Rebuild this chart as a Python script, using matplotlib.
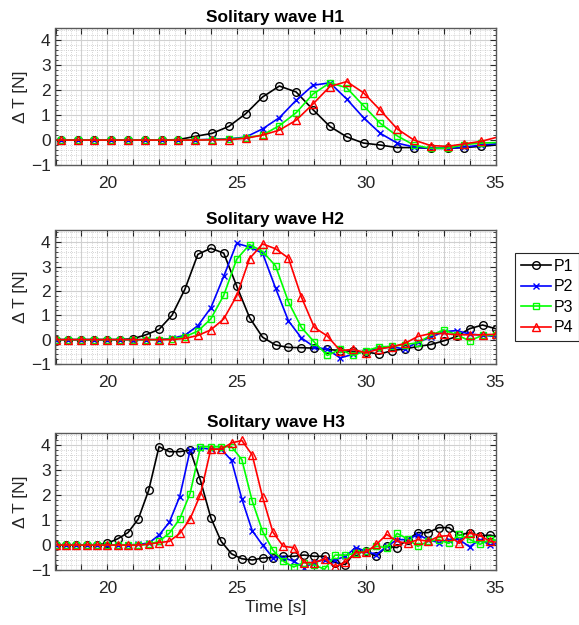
import matplotlib
matplotlib.use("Agg")
import matplotlib.pyplot as plt
import numpy as np
from matplotlib.ticker import MultipleLocator, FixedLocator

plt.rcParams["font.family"] = ["Liberation Sans", "DejaVu Sans"]

# ---- data ----
# Solitary wave H1: samples at the markers (every 0.65 s from 18.2 s) plus 18 s and 35 s
t_h1 = [18.0] + list(np.round(np.arange(18.2, 34.5, 0.65), 2)) + [35.0]
p1_h1 = [0] * 8 + [0.02, 0.15, 0.27, 0.55, 1.06, 1.73, 2.17, 1.93, 1.22, 0.55, 0.13,
                   -0.12, -0.2, -0.3, -0.3, -0.33, -0.33, -0.3, -0.25, -0.2]
p2_h1 = [0] * 9 + [0.01, 0.03, 0.05, 0.12, 0.45, 0.9, 1.6, 2.2, 2.3, 1.65, 0.9, 0.27,
                   -0.12, -0.28, -0.33, -0.33, -0.28, -0.2, -0.15]
p3_h1 = [0] * 9 + [0.01, 0.02, 0.04, 0.1, 0.2, 0.58, 1.1, 1.85, 2.3, 2.1, 1.38, 0.67,
                   0.17, -0.2, -0.33, -0.33, -0.18, -0.12, -0.1]
p4_h1 = [0] * 10 + [0.01, 0.02, 0.07, 0.2, 0.4, 0.8, 1.45, 2.15, 2.35, 1.9, 1.2, 0.45,
                    0.0, -0.22, -0.25, -0.15, -0.05, 0.1]

# Solitary wave H2: markers every 0.5 s
t_h2 = list(np.round(np.arange(18.0, 35.01, 0.5), 2))
p1_h2 = [0] * 6 + [0.04, 0.2, 0.42, 1.0, 2.07, 3.5, 3.75, 3.55, 2.2, 0.9, 0.1, -0.22,
                   -0.32, -0.33, -0.35, -0.4, -0.45, -0.48, -0.5, -0.6, -0.45, -0.38,
                   -0.28, -0.2, -0.05, 0.13, 0.45, 0.6, 0.45]
p2_h2 = [0] * 9 + [0.05, 0.18, 0.57, 1.3, 2.6, 3.95, 3.8, 3.55, 2.12, 0.77, 0.07, -0.3,
                   -0.4, -0.75, -0.6, -0.47, -0.35, -0.3, -0.38, -0.1, 0.1, 0.33, 0.37,
                   0.23, 0.18, 0.13]
p3_h2 = [0] * 9 + [0.03, 0.12, 0.35, 0.85, 1.82, 3.3, 3.9, 3.62, 3.03, 1.55, 0.5, -0.1,
                   -0.65, -0.4, -0.65, -0.45, -0.3, -0.28, -0.2, -0.13, 0.18, 0.4, 0.2,
                   -0.05, 0.18, 0.18]
p4_h2 = [0] * 10 + [0.05, 0.17, 0.4, 0.85, 1.8, 3.33, 3.93, 3.73, 3.35, 1.75, 0.5, 0.15,
                    -0.45, -0.4, -0.55, -0.38, -0.3, -0.15, 0.13, 0.25, 0.25, 0.2, 0.2,
                    0.2, 0.22]

# Solitary wave H3: markers every 0.4 s, plus 35 s
t_h3 = list(np.round(np.arange(18.0, 34.81, 0.4), 2)) + [35.0]
p1_h3 = [0] * 5 + [0.07, 0.25, 0.5, 1.05, 2.2, 3.95, 3.75, 3.75, 3.82, 2.6, 1.1, 0.15,
                   -0.35, -0.55, -0.6, -0.52, -0.5, -0.45, -0.45, -0.4, -0.45, -0.45,
                   -0.7, -0.78, -0.25, -0.25, -0.45, -0.05, -0.1, 0.22, 0.5, 0.5, 0.7,
                   0.7, 0.4, 0.5, 0.37, 0.4, 0.35]
p2_h3 = [0] * 8 + [0.03, 0.08, 0.4, 0.92, 1.95, 3.8, 3.9, 3.85, 3.85, 3.4, 1.85, 0.58,
                   0.0, -0.5, -0.5, -0.65, -0.9, -0.7, -0.58, -0.6, -0.45, -0.1, -0.25,
                   -0.38, -0.05, 0.22, 0.22, 0.42, 0.22, 0.1, 0.22, 0.22, -0.07, 0.22,
                   0.0, 0.05]
p3_h3 = [0] * 9 + [0.03, 0.15, 0.48, 1.05, 2.07, 3.95, 3.95, 3.95, 3.95, 3.43, 1.77,
                   0.55, -0.2, -0.65, -0.88, -0.7, -0.8, -0.97, -0.4, -0.4, -0.33,
                   -0.25, -0.05, -0.1, 0.47, 0.25, -0.05, 0.15, 0.22, 0.07, 0.43, 0.23,
                   0.03, 0.23, 0.2]
p4_h3 = [0] * 9 + [0.04, 0.1, 0.15, 0.47, 1.05, 2.03, 3.85, 3.85, 4.1, 4.2, 3.62, 1.93,
                   0.52, -0.05, -0.1, -0.7, -0.7, -0.55, -0.87, -0.68, -0.3, -0.28, 0.03,
                   0.43, 0.15, 0.07, 0.22, 0.15, 0.35, 0.38, 0.07, 0.48, 0.38, 0.15,
                   0.12]

panels = [
    ("Solitary wave H1", t_h1, [p1_h1, p2_h1, p3_h1, p4_h1], slice(1, -1)),
    ("Solitary wave H2", t_h2, [p1_h2, p2_h2, p3_h2, p4_h2], slice(0, None)),
    ("Solitary wave H3", t_h3, [p1_h3, p2_h3, p3_h3, p4_h3], slice(0, -1)),
]
labels = ["P1", "P2", "P3", "P4"]
colors = ["k", "#0000ff", "#00ff00", "#ff0000"]
markers = ["o", "x", "s", "^"]
msizes = [5.5, 4.5, 4.5, 6]

# axes boxes in pixels (left, top, right, bottom) of the 579x625 figure
W, H = 579, 625
rects = [(55.5, 28, 495.5, 165), (55.5, 230, 495.5, 364), (55.5, 433, 495.5, 570)]

fig = plt.figure(figsize=(W / 100, H / 100), dpi=100)
axes = []
for (title, t, series, mev), (l, tp, r, b) in zip(panels, rects):
    ax = fig.add_axes([l / W, 1 - b / H, (r - l) / W, (b - tp) / H])
    axes.append(ax)
    for vals, lab, c, m, ms in zip(series, labels, colors, markers, msizes):
        assert len(vals) == len(t), (title, lab, len(vals), len(t))
        ax.plot(t, vals, color=c, lw=1.2, marker=m, ms=ms, mfc="none",
                mec=c, mew=1.0, markevery=mev, label=lab)
    ax.set_xlim(18, 35)
    ax.set_ylim(-1, 4.5)
    ax.xaxis.set_major_locator(MultipleLocator(1))
    ax.xaxis.set_major_formatter(
        plt.FuncFormatter(lambda v, p: f"{v:.0f}" if abs(v % 5) < 1e-6 else ""))
    ax.xaxis.set_minor_locator(MultipleLocator(0.2))
    ax.yaxis.set_major_locator(FixedLocator([-1, 0, 1, 2, 3, 4]))
    ax.yaxis.set_minor_locator(MultipleLocator(0.2))
    ax.grid(which="major", color="#d0d0d0", lw=0.8, ls="-")
    ax.grid(which="minor", color="#c8c8c8", lw=0.6, ls=(0, (1, 1.5)))
    ax.set_axisbelow(True)
    ax.tick_params(which="both", direction="in", top=True, right=True,
                   labelsize=12.5, colors="#262626", labelcolor="#262626")
    ax.tick_params(which="major", length=4, width=0.8)
    ax.tick_params(which="minor", length=2.5, width=0.6)
    ax.tick_params(axis="x", which="minor", length=0)
    ax.tick_params(axis="x", which="major", pad=8)
    for s in ax.spines.values():
        s.set_color("#5a5a5a")
        s.set_linewidth(1.0)
    ax.set_title(title, fontsize=12.5, fontweight="bold", pad=4)
    ax.set_ylabel("\u0394 T [N]", fontsize=12.5, color="#262626", labelpad=2)

axes[-1].set_xlabel("Time [s]", fontsize=12.5, color="#262626", labelpad=3)

# one legend for all panels, to the right of the middle one
handles, labs = axes[1].get_legend_handles_labels()
leg = fig.legend(handles, labs, loc="upper left",
                 bbox_to_anchor=(515 / W, 1 - 253 / H), fontsize=11.5,
                 frameon=True, fancybox=False, edgecolor="#262626",
                 framealpha=1, handlelength=1.9, handletextpad=0.15,
                 borderpad=0.35, labelspacing=0.35, borderaxespad=0)
leg.get_frame().set_linewidth(0.8)

fig.savefig("out.png", dpi=100)
